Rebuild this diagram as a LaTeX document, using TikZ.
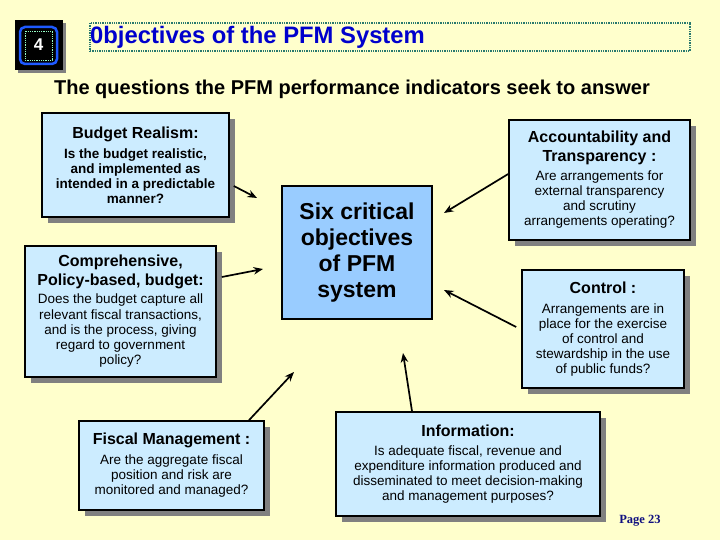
\documentclass[tikz,border=0pt]{standalone}
\usepackage{fontspec}
\setmainfont{Liberation Sans}
\newfontfamily\pageserif{Liberation Serif}
\usetikzlibrary{shadows,arrows.meta,calc}
\definecolor{bg}{RGB}{255,255,204}
\definecolor{boxfill}{RGB}{204,236,255}
\definecolor{cfill}{RGB}{153,204,255}
\definecolor{shad}{RGB}{128,128,128}
\definecolor{ttlblue}{RGB}{0,0,204}
\definecolor{pagenavy}{RGB}{16,16,128}
\definecolor{dotc}{RGB}{40,120,110}
\definecolor{numblue}{RGB}{30,90,255}
\definecolor{numdot}{RGB}{150,255,200}
\newcommand{\boxtitle}[1]{{\fontsize{16}{19}\selectfont\bfseries #1}}
\newcommand{\boldbody}[1]{{\bfseries #1}}
\begin{document}
\begin{tikzpicture}[x=1pt,y=-1pt,
  qbox/.style={draw=black, line width=1.6pt, fill=boxfill, align=center, inner sep=0pt,
    font=\fontsize{13.5}{15}\selectfont,
    drop shadow={shadow xshift=6pt, shadow yshift=-6pt, fill=shad, opacity=1}},
  conn/.style={line width=1.7pt, -{Stealth[length=9.5pt,width=7.5pt]}}]
\useasboundingbox (0,0) rectangle (720,540);
\fill[bg] (0,0) rectangle (720,540);

% number badge
\node (numbox) [fill=black, minimum width=48pt, minimum height=50pt, inner sep=0pt,
  drop shadow={shadow xshift=3pt, shadow yshift=-3pt, fill=shad, opacity=1}] at (39,45) {};
\node (numinner) [draw=numblue, line width=2.5pt, rounded corners=5pt, fill=black,
  minimum width=37pt, minimum height=37pt, inner sep=0pt] at (38.5,45.5) {};
\draw[numdot, densely dotted, line width=0.8pt] (25,31) rectangle (52,60);
\node (num) [text=white, font=\fontsize{17}{20}\selectfont\bfseries] at (38.5,45) {4};

% title
\node (titlebox) [draw=dotc, densely dotted, line width=1.3pt, minimum width=600pt,
  minimum height=28pt, inner sep=0pt] at (390,37) {};
\node (title) [anchor=west, inner sep=0pt, text=ttlblue,
  font=\fontsize{23.8}{26}\selectfont\bfseries] at (90,37.5) {0bjectives of the PFM System};

% subtitle
\node (subtitle) [inner sep=0pt, font=\fontsize{20}{22}\selectfont\bfseries] at (352,89)
  {The questions the PFM performance indicators seek to answer};

% boxes
\node (budget) [qbox, minimum width=187pt, minimum height=104pt] at (135.5,165)
  {\boxtitle{Budget Realism:}\\[5pt]
   \boldbody{Is the budget realistic,}\\ \boldbody{and implemented as}\\
   \boldbody{intended in a predictable}\\ \boldbody{manner?}};
\node (comp) [qbox, minimum width=191pt, minimum height=131pt] at (120.5,311.5)
  {\boxtitle{Comprehensive,}\\[4pt] \boxtitle{Policy-based, budget:}\\[3pt]
   Does the budget capture all\\[0.3pt] relevant fiscal transactions,\\[0.3pt]
   and is the process, giving\\[0.3pt] regard to government\\[0.3pt] policy?};
\node (fiscal) [qbox, minimum width=185pt, minimum height=89pt] at (171.5,465.5)
  {\boxtitle{Fiscal Management :}\\[5pt]
   Are the aggregate fiscal\\ position and risk are\\ monitored and managed?};
\node (info) [qbox, minimum width=264pt, minimum height=104pt] at (468,464)
  {\boxtitle{Information:}\\[4pt]
   Is adequate fiscal, revenue and\\ expenditure information produced and\\
   disseminated to meet decision-making\\ and management purposes?};
\node (acc) [qbox, minimum width=181pt, minimum height=120pt] at (599.5,180)
  {\boxtitle{Accountability and}\\[4pt] \boxtitle{Transparency :}\\[4pt]
   Are arrangements for\\ external transparency\\ and scrutiny\\ arrangements operating?};
\node (ctrl) [qbox, minimum width=162pt, minimum height=118pt] at (603,329)
  {\boxtitle{Control :}\\[5pt]
   Arrangements are in\\ place for the exercise\\ of control and\\
   stewardship in the use\\ of public funds?};
\node (center) [draw=black, line width=1.6pt, fill=cfill, align=center, inner sep=0pt,
  minimum width=150pt, minimum height=133pt,
  font=\fontsize{23}{26}\selectfont\bfseries] at (357,252.5)
  {Six critical\\ objectives\\ of PFM\\ system};

% arrow tips
\coordinate (t1) at (257,198);
\coordinate (t2) at (263,269);
\coordinate (t3) at (294,372);
\coordinate (t4) at (403,353);
\coordinate (t5) at (444,213);
\coordinate (t6) at (444,290);

\draw[conn] ([xshift=4pt,yshift=-21pt]budget.east) -- (t1);
\draw[conn] ([xshift=5pt,yshift=34.5pt]comp.east) -- (t2);
\draw[conn] ([xshift=77.5pt]fiscal.north) -- (t3);
\draw[conn] ([xshift=-56pt]info.north) -- (t4);
\draw[conn] ([yshift=6pt]acc.west) -- (t5);
\draw[conn] ([xshift=-5pt,yshift=2pt]ctrl.west) -- (t6);

% page number
\node (page) [text=pagenavy, font=\pageserif\fontsize{12.5}{14}\selectfont\bfseries] at (640,521) {Page 23};
\end{tikzpicture}
\end{document}
